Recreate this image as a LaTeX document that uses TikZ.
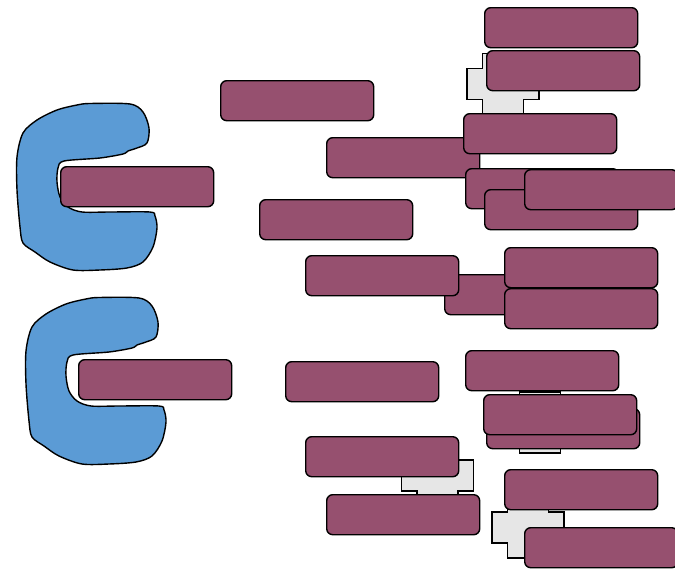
\documentclass[tikz,border=0pt]{standalone}
\definecolor{boxc}{HTML}{96506F}
\definecolor{cblue}{HTML}{5B9BD5}
\definecolor{crossc}{HTML}{E6E6E6}
\tikzset{
  pbox/.style={draw=black, fill=boxc, rounded corners=6pt, line width=1.4pt,
    minimum width=153pt, minimum height=40pt, inner sep=0pt, anchor=north west},
  cshape/.style={draw=black, fill=cblue, line width=1.4pt},
  crossshape/.style={draw=black, fill=crossc, line width=1.4pt},
  crosspath/.pic={\path[crossshape] (-20.5,-30.5) -- (20.5,-30.5) -- (20.5,-15.5) -- (36,-15.5) -- (36,15.5) -- (20.5,15.5) -- (20.5,30.5) -- (-20.5,30.5) -- (-20.5,15.5) -- (-36,15.5) -- (-36,-15.5) -- (-20.5,-15.5) -- cycle;}
}
\begin{document}
\begin{tikzpicture}[x=1pt,y=-1pt]
\useasboundingbox (0,0) rectangle (675,570);
\clip (0,0) rectangle (675,570);
% C shapes
\def\Cpath{plot[smooth cycle, tension=0.5] coordinates {(90,103.5) (130,104) (143,112) (149,128) (147,143) (137,148) (128,151) (123,154) (100,158) (64,161) (58,168) (57,182) (60,197) (68,207) (82,212) (110,212) (150,212) (155,216) (157,228) (153,247) (143,262) (127,268) (100,270) (73,270) (50,262) (35,252) (23,243) (20,227) (17,190) (17,157) (23,133) (37,120) (57,110) (77,105)}}
\draw[cshape] \Cpath;
\begin{scope}[shift={(9,194)}]
\draw[cshape] \Cpath;
\end{scope}
% crosses
\pic at (503,84) {crosspath};
\pic at (437.5,475.5) {crosspath};
\pic at (528,527.5) {crosspath};
\pic at (540,422.5) {crosspath};
% boxes
\node[pbox] (b1) at (484,7) {};
\node[pbox] (b2) at (486,50) {};
\node[pbox] (b3) at (220,80) {};
\node[pbox] (b4) at (326,137) {};
\node[pbox] (b5) at (463,113) {};
\node[pbox] (b6) at (60,166) {};
\node[pbox] (b7) at (465,168) {};
\node[pbox] (b8) at (484,189) {};
\node[pbox] (b9) at (524,169) {};
\node[pbox] (b10) at (259,199) {};
\node[pbox] (b12) at (444,274) {};
\node[pbox] (b11) at (305,255) {};
\node[pbox] (b13) at (504,247) {};
\node[pbox] (b14) at (504,288) {};
\node[pbox] (b15) at (78,359) {};
\node[pbox] (b16) at (285,361) {};
\node[pbox] (b17) at (465,350) {};
\node[pbox] (b19) at (486,408) {};
\node[pbox] (b18) at (483,394) {};
\node[pbox] (b20) at (305,436) {};
\node[pbox] (b21) at (326,494) {};
\node[pbox] (b22) at (504,469) {};
\node[pbox] (b23) at (524,527) {};
\end{tikzpicture}
\end{document}
